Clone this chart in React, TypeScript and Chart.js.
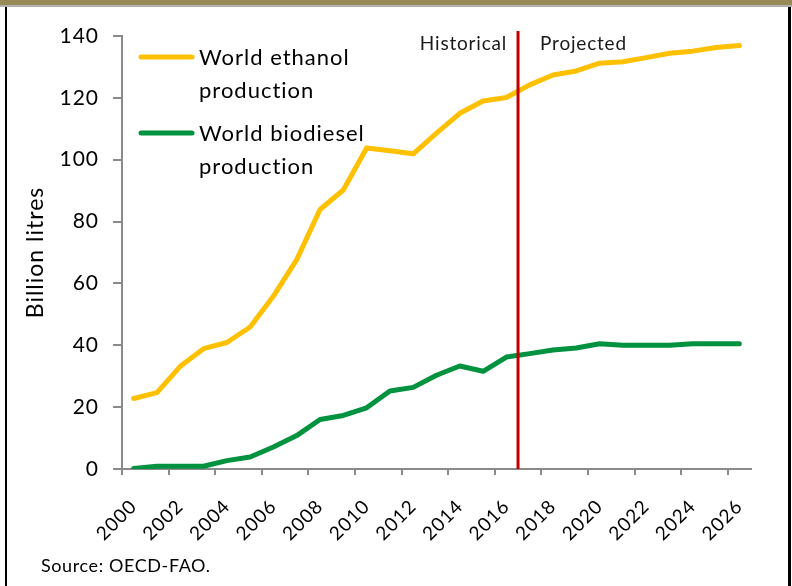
import React, { useEffect, useRef } from "react";
import { Chart, registerables } from "chart.js";

Chart.register(...registerables);

// Years on the category axis
const years = [
  "2000", "2001", "2002", "2003", "2004", "2005", "2006", "2007", "2008",
  "2009", "2010", "2011", "2012", "2013", "2014", "2015", "2016", "2017",
  "2018", "2019", "2020", "2021", "2022", "2023", "2024", "2025", "2026",
];

// World ethanol production, billion litres
const ethanol = [
  22.8, 24.7, 33.2, 38.9, 40.9, 45.9, 55.9, 67.7, 83.9, 90.2, 103.8, 102.9,
  101.9, 108.6, 115.0, 119.0, 120.1, 124.2, 127.4, 128.7, 131.2, 131.7, 133.0,
  134.4, 135.1, 136.3, 136.9,
];

// World biodiesel production, billion litres
const biodiesel = [
  0.2, 0.9, 0.9, 0.9, 2.7, 3.9, 7.1, 10.8, 16.0, 17.3, 19.8, 25.2, 26.4, 30.3,
  33.3, 31.6, 36.2, 37.3, 38.5, 39.1, 40.5, 40.0, 40.0, 40.0, 40.5, 40.5, 40.5,
];

// Legend entries (each label wraps onto two lines)
const seriesLabels = [
  ["World ethanol", "production"],
  ["World biodiesel", "production"],
];
const seriesColors = ["#FFC000", "#00923F"];

// The last historical year; the divider sits between it and the next one
const lastHistoricalYear = "2016";
const phaseLabels = ["Historical", "Projected"];

const yTicks = { min: 0, max: 140, step: 20 };
const sourceNote = "Source: OECD-FAO.";

const FONT = "Lato, 'Open Sans', sans-serif";
const AXIS_GREY = "#8a8a8a";

const overlayPlugin = {
  id: "overlay",
  beforeDraw(chart: any) {
    const ctx = chart.ctx;
    ctx.save();
    ctx.fillStyle = "#ffffff";
    ctx.fillRect(0, 0, chart.width, chart.height);
    ctx.restore();
    (ctx as any).letterSpacing = "1px";
  },
  afterDatasetsDraw(chart: any) {
    const ctx = chart.ctx;
    const x = chart.scales.x;
    const y = chart.scales.y;
    const idx = years.indexOf(lastHistoricalYear);
    const splitX = (x.getPixelForValue(idx) + x.getPixelForValue(idx + 1)) / 2;

    ctx.save();
    (ctx as any).letterSpacing = "0.8px";
    // divider between historical and projected years
    ctx.strokeStyle = "#C00000";
    ctx.lineWidth = 3;
    ctx.beginPath();
    ctx.moveTo(splitX, chart.chartArea.top - 5);
    ctx.lineTo(splitX, y.getPixelForValue(0));
    ctx.stroke();

    ctx.fillStyle = "#1a1a1a";
    ctx.font = `19px ${FONT}`;
    ctx.textBaseline = "alphabetic";
    ctx.textAlign = "right";
    ctx.fillText(phaseLabels[0], splitX - 11, 50);
    ctx.textAlign = "left";
    ctx.fillText(phaseLabels[1], splitX + 22, 50);

    // legend
    (ctx as any).letterSpacing = "1px";
    ctx.font = `22px ${FONT}`;
    ctx.textAlign = "left";
    const legendTops = [57, 133];
    chart.data.datasets.forEach((ds: any, i: number) => {
      const ly = legendTops[i];
      ctx.strokeStyle = ds.borderColor;
      ctx.lineWidth = 5;
      ctx.lineCap = "round";
      ctx.beginPath();
      ctx.moveTo(141, ly);
      ctx.lineTo(192, ly);
      ctx.stroke();
      ctx.fillStyle = "#000";
      seriesLabels[i].forEach((line, j) => {
        ctx.fillText(line, 199, ly + 8 + j * 33);
      });
    });

    // source note
    (ctx as any).letterSpacing = "0.6px";
    ctx.font = `18px ${FONT}`;
    ctx.fillStyle = "#000";
    ctx.fillText(sourceNote, 41, 572);
    ctx.restore();
  },
};

export default function App() {
  const canvasRef = useRef<HTMLCanvasElement | null>(null);

  useEffect(() => {
    if (!canvasRef.current) return;
    const chart = new Chart(canvasRef.current, {
      type: "line",
      data: {
        labels: years,
        datasets: [
          {
            label: seriesLabels[0].join(" "),
            data: ethanol,
            borderColor: seriesColors[0],
            backgroundColor: seriesColors[0],
            borderWidth: 5,
            pointRadius: 0,
            tension: 0,
            borderCapStyle: "round",
            borderJoinStyle: "round",
          },
          {
            label: seriesLabels[1].join(" "),
            data: biodiesel,
            borderColor: seriesColors[1],
            backgroundColor: seriesColors[1],
            borderWidth: 5,
            pointRadius: 0,
            tension: 0,
            borderCapStyle: "round",
            borderJoinStyle: "round",
          },
        ],
      },
      options: {
        animation: false,
        responsive: false,
        maintainAspectRatio: false,
        layout: { padding: { left: 8, top: 36, right: 41, bottom: 0 } },
        plugins: {
          legend: { display: false },
          tooltip: { enabled: false },
        },
        scales: {
          x: {
            type: "category",
            offset: true,
            grid: {
              offset: true,
              drawOnChartArea: false,
              drawTicks: true,
              tickLength: 6,
              lineWidth: 2,
              color: (c: any) =>
                typeof c.index === "number" && c.index % 2 === 0
                  ? AXIS_GREY
                  : "rgba(0,0,0,0)",
            },
            border: { display: true, color: AXIS_GREY, width: 2 },
            ticks: {
              autoSkip: false,
              minRotation: 45,
              maxRotation: 45,
              padding: 20,
              color: "#000",
              font: { family: FONT, size: 19 },
              callback: (_v: any, i: number) => (i % 2 === 0 ? years[i] : ""),
            },
            afterFit: (s: any) => {
              s.height = 117;
            },
          },
          y: {
            min: yTicks.min,
            max: yTicks.max,
            ticks: {
              stepSize: yTicks.step,
              padding: 14,
              color: "#000",
              font: { family: FONT, size: 21 },
            },
            grid: {
              drawOnChartArea: false,
              tickLength: 9,
              lineWidth: 2,
              color: AXIS_GREY,
            },
            border: { display: true, color: AXIS_GREY, width: 2 },
            title: {
              display: true,
              text: "Billion litres",
              color: "#000",
              font: { family: FONT, size: 23 },
              padding: { top: 14, bottom: 0 },
            },
            afterFit: (s: any) => {
              s.width = 114;
            },
          },
        },
      },
      plugins: [overlayPlugin],
    });
    return () => chart.destroy();
  }, []);

  return (
    <div
      style={{
        position: "fixed",
        left: 0,
        top: 0,
        width: 792,
        height: 586,
        background: "#fff",
        overflow: "hidden",
      }}
    >
      <canvas
        ref={canvasRef}
        width={792}
        height={586}
        style={{ position: "absolute", left: 0, top: 0, width: 792, height: 586 }}
      />
      <div style={{ position: "absolute", left: 0, top: 0, width: 792, height: 5, background: "#978a57" }} />
      <div style={{ position: "absolute", left: 0, top: 5, width: 792, height: 2, background: "#b0b0b0" }} />
      <div style={{ position: "absolute", left: 5, top: 7, width: 2, height: 579, background: "#000" }} />
      <div style={{ position: "absolute", left: 788, top: 7, width: 3, height: 579, background: "#000" }} />
    </div>
  );
}
